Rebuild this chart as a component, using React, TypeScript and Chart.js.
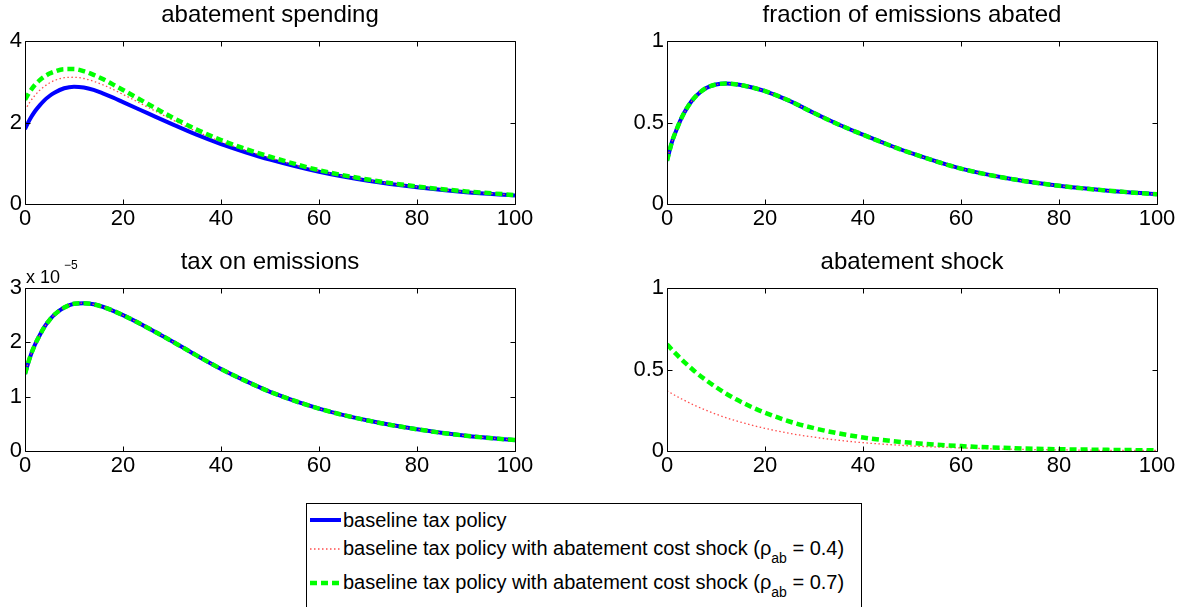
import React, { useEffect, useRef } from "react";
import { Chart, registerables } from "chart.js";

Chart.register(...registerables);

const FONT = "'Liberation Sans', Arial, Helvetica, sans-serif";

// ---- data ----
const periods = [0, 1, 2, 3, 4, 5, 6, 8, 10, 12, 14, 16, 18, 20, 25, 30, 35, 40, 45, 50, 60, 70, 80, 90, 100];

// abatement spending
const spendingBaseline = [1.84, 2.08, 2.27, 2.42, 2.55, 2.65, 2.73, 2.84, 2.88, 2.86, 2.8, 2.71, 2.61, 2.5, 2.23, 1.96, 1.7, 1.47, 1.27, 1.09, 0.79, 0.57, 0.41, 0.29, 0.21];
const spendingShock04 = [2.3, 2.5, 2.66, 2.79, 2.89, 2.97, 3.03, 3.1, 3.11, 3.08, 3.01, 2.92, 2.81, 2.69, 2.38, 2.07, 1.78, 1.53, 1.32, 1.13, 0.81, 0.58, 0.42, 0.3, 0.22];
const spendingShock07 = [2.56, 2.76, 2.92, 3.04, 3.13, 3.2, 3.25, 3.31, 3.31, 3.26, 3.17, 3.06, 2.93, 2.8, 2.46, 2.13, 1.83, 1.57, 1.35, 1.16, 0.83, 0.6, 0.43, 0.31, 0.22];

// fraction of emissions abated (the three runs coincide)
const fractionBaseline = [0.265, 0.38, 0.46, 0.53, 0.585, 0.63, 0.665, 0.712, 0.733, 0.739, 0.735, 0.724, 0.71, 0.693, 0.633, 0.558, 0.488, 0.425, 0.365, 0.31, 0.217, 0.155, 0.112, 0.082, 0.06];
const fractionShock04 = [0.265, 0.38, 0.46, 0.53, 0.585, 0.63, 0.665, 0.712, 0.733, 0.739, 0.735, 0.724, 0.71, 0.693, 0.633, 0.558, 0.488, 0.425, 0.365, 0.31, 0.217, 0.155, 0.112, 0.082, 0.06];
const fractionShock07 = [0.265, 0.38, 0.46, 0.53, 0.585, 0.63, 0.665, 0.712, 0.733, 0.739, 0.735, 0.724, 0.71, 0.693, 0.633, 0.558, 0.488, 0.425, 0.365, 0.31, 0.217, 0.155, 0.112, 0.082, 0.06];

// tax on emissions, in units of 10^-5 (the three runs coincide)
const TAX_EXPONENT = "\u22125";
const taxBaseline = [1.42, 1.72, 1.95, 2.13, 2.29, 2.41, 2.51, 2.64, 2.71, 2.72, 2.7, 2.65, 2.58, 2.5, 2.27, 2.02, 1.76, 1.51, 1.29, 1.09, 0.78, 0.56, 0.4, 0.28, 0.2];
const taxShock04 = [1.42, 1.72, 1.95, 2.13, 2.29, 2.41, 2.51, 2.64, 2.71, 2.72, 2.7, 2.65, 2.58, 2.5, 2.27, 2.02, 1.76, 1.51, 1.29, 1.09, 0.78, 0.56, 0.4, 0.28, 0.2];
const taxShock07 = [1.42, 1.72, 1.95, 2.13, 2.29, 2.41, 2.51, 2.64, 2.71, 2.72, 2.7, 2.65, 2.58, 2.5, 2.27, 2.02, 1.76, 1.51, 1.29, 1.09, 0.78, 0.56, 0.4, 0.28, 0.2];

// abatement shock
const shockRho04 = [0.37, 0.352, 0.335, 0.319, 0.304, 0.289, 0.275, 0.25, 0.226, 0.205, 0.186, 0.169, 0.153, 0.139, 0.108, 0.085, 0.066, 0.051, 0.04, 0.031, 0.019, 0.011, 0.007, 0.004, 0.003];
const shockRho07 = [0.655, 0.622, 0.591, 0.561, 0.533, 0.506, 0.48, 0.434, 0.392, 0.353, 0.319, 0.288, 0.26, 0.235, 0.181, 0.14, 0.108, 0.083, 0.064, 0.05, 0.03, 0.018, 0.011, 0.007, 0.004];

const xTickStep = 20;
const xMin = 0;
const xMax = 100;

const seriesLabels = [
  "baseline tax policy",
  "baseline tax policy with abatement cost shock (\u03c1ab = 0.4)",
  "baseline tax policy with abatement cost shock (\u03c1ab = 0.7)",
];

// ---- styles ----
const STYLE_BASE = { borderColor: "#0000ff", borderWidth: 4, order: 3 };
const STYLE_R04 = { borderColor: "#ff4c4c", borderWidth: 1.3, borderDash: [1.5, 2.5], order: 2 };
const STYLE_R07 = { borderColor: "#00ff00", borderWidth: 4.5, borderDash: [7, 4], order: 1 };

const PLOT_W = 490;
const PLOT_H = 163;
const Y_AXIS_W = 60;
const TITLE_H = 48;
const X_AXIS_H = 30;
const RIGHT_PAD = 25;

type Series = { label: string; values: number[]; style: any };

type PanelProps = {
  left: number;
  top: number;
  title: string;
  yMax: number;
  yStep: number;
  series: Series[];
  exponent?: string;
};

const boxPlugin = {
  id: "matlabBox",
  afterDatasetsDraw(chart: any) {
    const { ctx, chartArea: a, scales } = chart;
    const L = Math.round(a.left) + 0.5;
    const R = Math.round(a.right) + 0.5;
    const T = Math.round(a.top) + 0.5;
    const B = Math.round(a.bottom) + 0.5;
    const tl = 5;
    ctx.save();
    ctx.strokeStyle = "#000";
    ctx.lineWidth = 1;
    ctx.beginPath();
    ctx.rect(L, T, R - L, B - T);
    scales.x.ticks.forEach((t: any) => {
      const px = Math.round(scales.x.getPixelForValue(t.value)) + 0.5;
      ctx.moveTo(px, B);
      ctx.lineTo(px, B - tl);
      ctx.moveTo(px, T);
      ctx.lineTo(px, T + tl);
    });
    scales.y.ticks.forEach((t: any) => {
      const py = Math.round(scales.y.getPixelForValue(t.value)) + 0.5;
      ctx.moveTo(L, py);
      ctx.lineTo(L + tl, py);
      ctx.moveTo(R, py);
      ctx.lineTo(R - tl, py);
    });
    ctx.stroke();
    ctx.restore();
  },
};

function Panel({ left, top, title, yMax, yStep, series, exponent }: PanelProps) {
  const ref = useRef<HTMLCanvasElement | null>(null);
  const cw = Y_AXIS_W + PLOT_W + RIGHT_PAD;
  const ch = TITLE_H + PLOT_H + X_AXIS_H;

  useEffect(() => {
    if (!ref.current) return;
    const expPlugin = {
      id: "expLabel",
      afterDraw(chart: any) {
        if (!exponent) return;
        const { ctx, chartArea: a } = chart;
        ctx.save();
        ctx.fillStyle = "#000";
        ctx.textAlign = "left";
        ctx.textBaseline = "alphabetic";
        ctx.font = `18px ${FONT}`;
        ctx.fillText("x 10", a.left + 1, a.top - 5);
        ctx.font = `12px ${FONT}`;
        ctx.fillText(exponent, a.left + 39, a.top - 19);
        ctx.restore();
      },
    };
    const chart = new Chart(ref.current, {
      type: "line",
      data: {
        datasets: series.map((s) => ({
          label: s.label,
          data: periods.map((x, i) => ({ x, y: s.values[i] })),
          pointRadius: 0,
          fill: false,
          cubicInterpolationMode: "monotone",
          borderCapStyle: "butt",
          ...s.style,
        })),
      },
      options: {
        responsive: false,
        maintainAspectRatio: false,
        animation: false,
        devicePixelRatio: 1,
        layout: { padding: { left: 0, right: RIGHT_PAD, top: 0, bottom: 0 } },
        plugins: {
          legend: { display: false },
          tooltip: { enabled: false },
          title: {
            display: true,
            text: title,
            fullSize: false,
            color: "#000",
            font: { family: FONT, size: 24, weight: "normal", lineHeight: 1.2 },
            padding: { top: 8, bottom: 11.2 },
          },
        },
        scales: {
          x: {
            type: "linear",
            min: xMin,
            max: xMax,
            grid: { display: false, drawTicks: false },
            border: { display: false },
            ticks: {
              stepSize: xTickStep,
              autoSkip: false,
              maxRotation: 0,
              padding: 2,
              color: "#000",
              font: { family: FONT, size: 22 },
              callback: (v: any) => String(v),
            },
            afterFit: (s: any) => {
              s.height = X_AXIS_H;
            },
          },
          y: {
            type: "linear",
            min: 0,
            max: yMax,
            grid: { display: false, drawTicks: false },
            border: { display: false },
            ticks: {
              stepSize: yStep,
              autoSkip: false,
              padding: 3,
              color: "#000",
              font: { family: FONT, size: 22 },
              callback: (v: any) => String(v),
            },
            afterFit: (s: any) => {
              s.width = Y_AXIS_W;
            },
          },
        },
      },
      plugins: [boxPlugin, expPlugin],
    } as any);
    return () => chart.destroy();
  }, []);

  return (
    <canvas
      ref={ref}
      width={cw}
      height={ch}
      style={{
        position: "absolute",
        left: left - Y_AXIS_W,
        top: top - TITLE_H,
        width: cw,
        height: ch,
      }}
    />
  );
}

function Sample({ kind }: { kind: number }) {
  const common = { x1: 0, y1: 6, x2: 31, y2: 6 } as any;
  if (kind === 0) return <svg width={31} height={12}><line {...common} stroke="#0000ff" strokeWidth={4} /></svg>;
  if (kind === 1)
    return <svg width={31} height={12}><line {...common} stroke="#ff4c4c" strokeWidth={1.3} strokeDasharray="1.5 2.5" /></svg>;
  return <svg width={31} height={12}><line {...common} stroke="#00ff00" strokeWidth={4.5} strokeDasharray="7 4" /></svg>;
}

function LegendLabel({ text }: { text: string }) {
  const i = text.indexOf("\u03c1ab");
  if (i < 0) return <span>{text}</span>;
  return (
    <span>
      {text.slice(0, i)}
      {"\u03c1"}
      <span style={{ fontSize: 14, position: "relative", top: 8 }}>ab</span>
      {text.slice(i + 3)}
    </span>
  );
}

export default function App() {
  const rowTops = [16, 45, 79];
  return (
    <div
      style={{
        position: "absolute",
        left: 0,
        top: 0,
        width: 1179,
        height: 607,
        overflow: "hidden",
        background: "#fff",
        fontFamily: FONT,
      }}
    >
      <Panel
        left={25}
        top={41}
        title="abatement spending"
        yMax={4}
        yStep={2}
        series={[
          { label: seriesLabels[0], values: spendingBaseline, style: STYLE_BASE },
          { label: seriesLabels[1], values: spendingShock04, style: STYLE_R04 },
          { label: seriesLabels[2], values: spendingShock07, style: STYLE_R07 },
        ]}
      />
      <Panel
        left={667}
        top={41}
        title="fraction of emissions abated"
        yMax={1}
        yStep={0.5}
        series={[
          { label: seriesLabels[0], values: fractionBaseline, style: STYLE_BASE },
          { label: seriesLabels[1], values: fractionShock04, style: STYLE_R04 },
          { label: seriesLabels[2], values: fractionShock07, style: STYLE_R07 },
        ]}
      />
      <Panel
        left={25}
        top={288}
        title="tax on emissions"
        yMax={3}
        yStep={1}
        exponent={TAX_EXPONENT}
        series={[
          { label: seriesLabels[0], values: taxBaseline, style: STYLE_BASE },
          { label: seriesLabels[1], values: taxShock04, style: STYLE_R04 },
          { label: seriesLabels[2], values: taxShock07, style: STYLE_R07 },
        ]}
      />
      <Panel
        left={667}
        top={288}
        title="abatement shock"
        yMax={1}
        yStep={0.5}
        series={[
          { label: seriesLabels[1], values: shockRho04, style: STYLE_R04 },
          { label: seriesLabels[2], values: shockRho07, style: STYLE_R07 },
        ]}
      />
      <div
        style={{
          position: "absolute",
          left: 306,
          top: 503,
          width: 556,
          height: 130,
          border: "1px solid #000",
          background: "#fff",
          boxSizing: "border-box",
        }}
      >
        {seriesLabels.map((lab, k) => (
          <div
            key={k}
            style={{
              position: "absolute",
              left: 3,
              top: rowTops[k] - 11,
              height: 22,
              display: "flex",
              alignItems: "center",
              whiteSpace: "nowrap",
              fontSize: 20,
              lineHeight: "22px",
              color: "#000",
            }}
          >
            <Sample kind={k} />
            <span style={{ marginLeft: 2 }}>
              <LegendLabel text={lab} />
            </span>
          </div>
        ))}
      </div>
    </div>
  );
}
